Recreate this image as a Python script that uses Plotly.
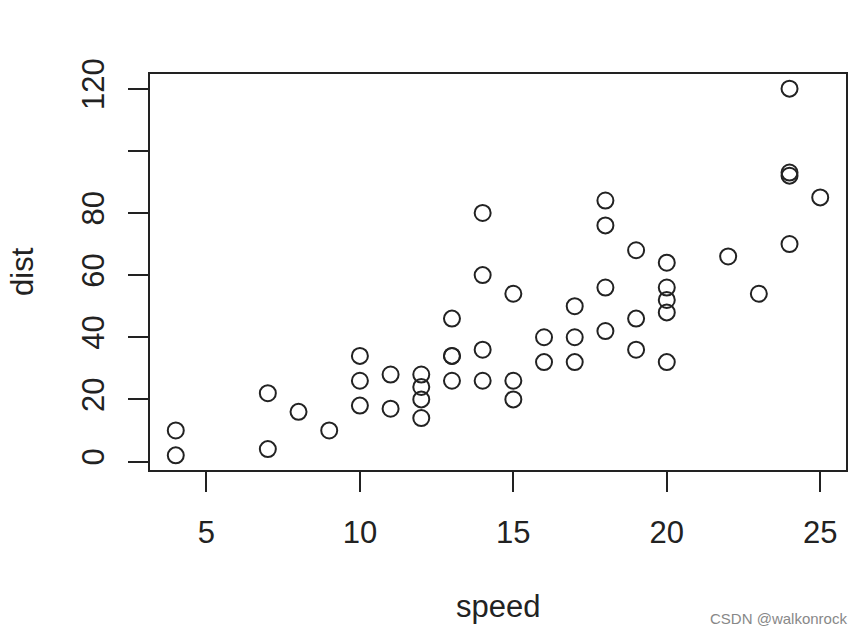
import plotly.graph_objects as go

speed = [4, 4, 7, 7, 8, 9, 10, 10, 10, 11, 11, 12, 12, 12, 12, 13, 13, 13, 13,
         14, 14, 14, 14, 15, 15, 15, 16, 16, 17, 17, 17, 18, 18, 18, 18, 19, 19,
         19, 20, 20, 20, 20, 20, 22, 23, 24, 24, 24, 24, 25]
dist = [2, 10, 4, 22, 16, 10, 18, 26, 34, 17, 28, 14, 20, 24, 28, 26, 34, 34, 46,
        26, 36, 60, 80, 20, 26, 54, 32, 40, 32, 40, 50, 42, 56, 76, 84, 36, 46,
        68, 32, 48, 52, 56, 64, 66, 54, 70, 92, 93, 120, 85]

x_ticks = [5, 10, 15, 20, 25]
y_ticks = [0, 20, 40, 60, 80, 100, 120]
y_ticktext = ["0", "20", "40", "60", "80", "", "120"]

FONT = "Liberation Sans, Arial, sans-serif"
INK = "#222222"

fig = go.Figure(go.Scatter(
    x=speed, y=dist, mode="markers",
    marker=dict(symbol="circle-open", size=16, color=INK, line=dict(width=2, color=INK)),
    showlegend=False,
))

xr = [4 - 0.04 * 21, 25 + 0.04 * 21]
yr = [2 - 0.04 * 118, 120 + 0.04 * 118]

# page offset ~7px; plot box target on screen: x 149..845, y 73..469
OFF = 7
W, H = 854, 624
L, T = 149 - OFF, 73 - OFF
R = OFF + W - 845
B = OFF + H - 469
plot_w = W - L - R
plot_h = H - T - B

def px_x(sx):
    return (sx - OFF - L) / plot_w

def px_y(sy):
    return 1 - (sy - OFF - T) / plot_h

fig.update_layout(
    width=W, height=H,
    margin=dict(l=L, r=R, t=T, b=B),
    paper_bgcolor="white", plot_bgcolor="white",
    font=dict(family=FONT, size=31, color=INK),
    xaxis=dict(range=xr, tickvals=x_ticks, ticks="outside", ticklen=20, tickwidth=2,
               tickcolor=INK, showline=True, linewidth=2, linecolor=INK, mirror=True,
               showgrid=False, zeroline=False, ticklabelstandoff=14),
    yaxis=dict(range=yr, tickvals=y_ticks, ticktext=y_ticktext, tickangle=-90,
               ticks="outside", ticklen=20, tickwidth=2, tickcolor=INK,
               showline=True, linewidth=2, linecolor=INK, mirror=True,
               showgrid=False, zeroline=False, ticklabelstandoff=12),
    annotations=[
        dict(text="speed", x=0.5, xref="paper", y=px_y(605), yref="paper",
             yanchor="middle", showarrow=False, font=dict(size=31, color=INK)),
        dict(text="dist", x=px_x(21), xref="paper", y=0.5, yref="paper", textangle=-90,
             xanchor="center", showarrow=False, font=dict(size=31, color=INK)),
        dict(text="CSDN @walkonrock", x=px_x(848), xref="paper", y=px_y(617), yref="paper",
             xanchor="right", yanchor="middle", showarrow=False,
             font=dict(size=15, color="#888888")),
    ],
)

fig.write_html("out.html")
